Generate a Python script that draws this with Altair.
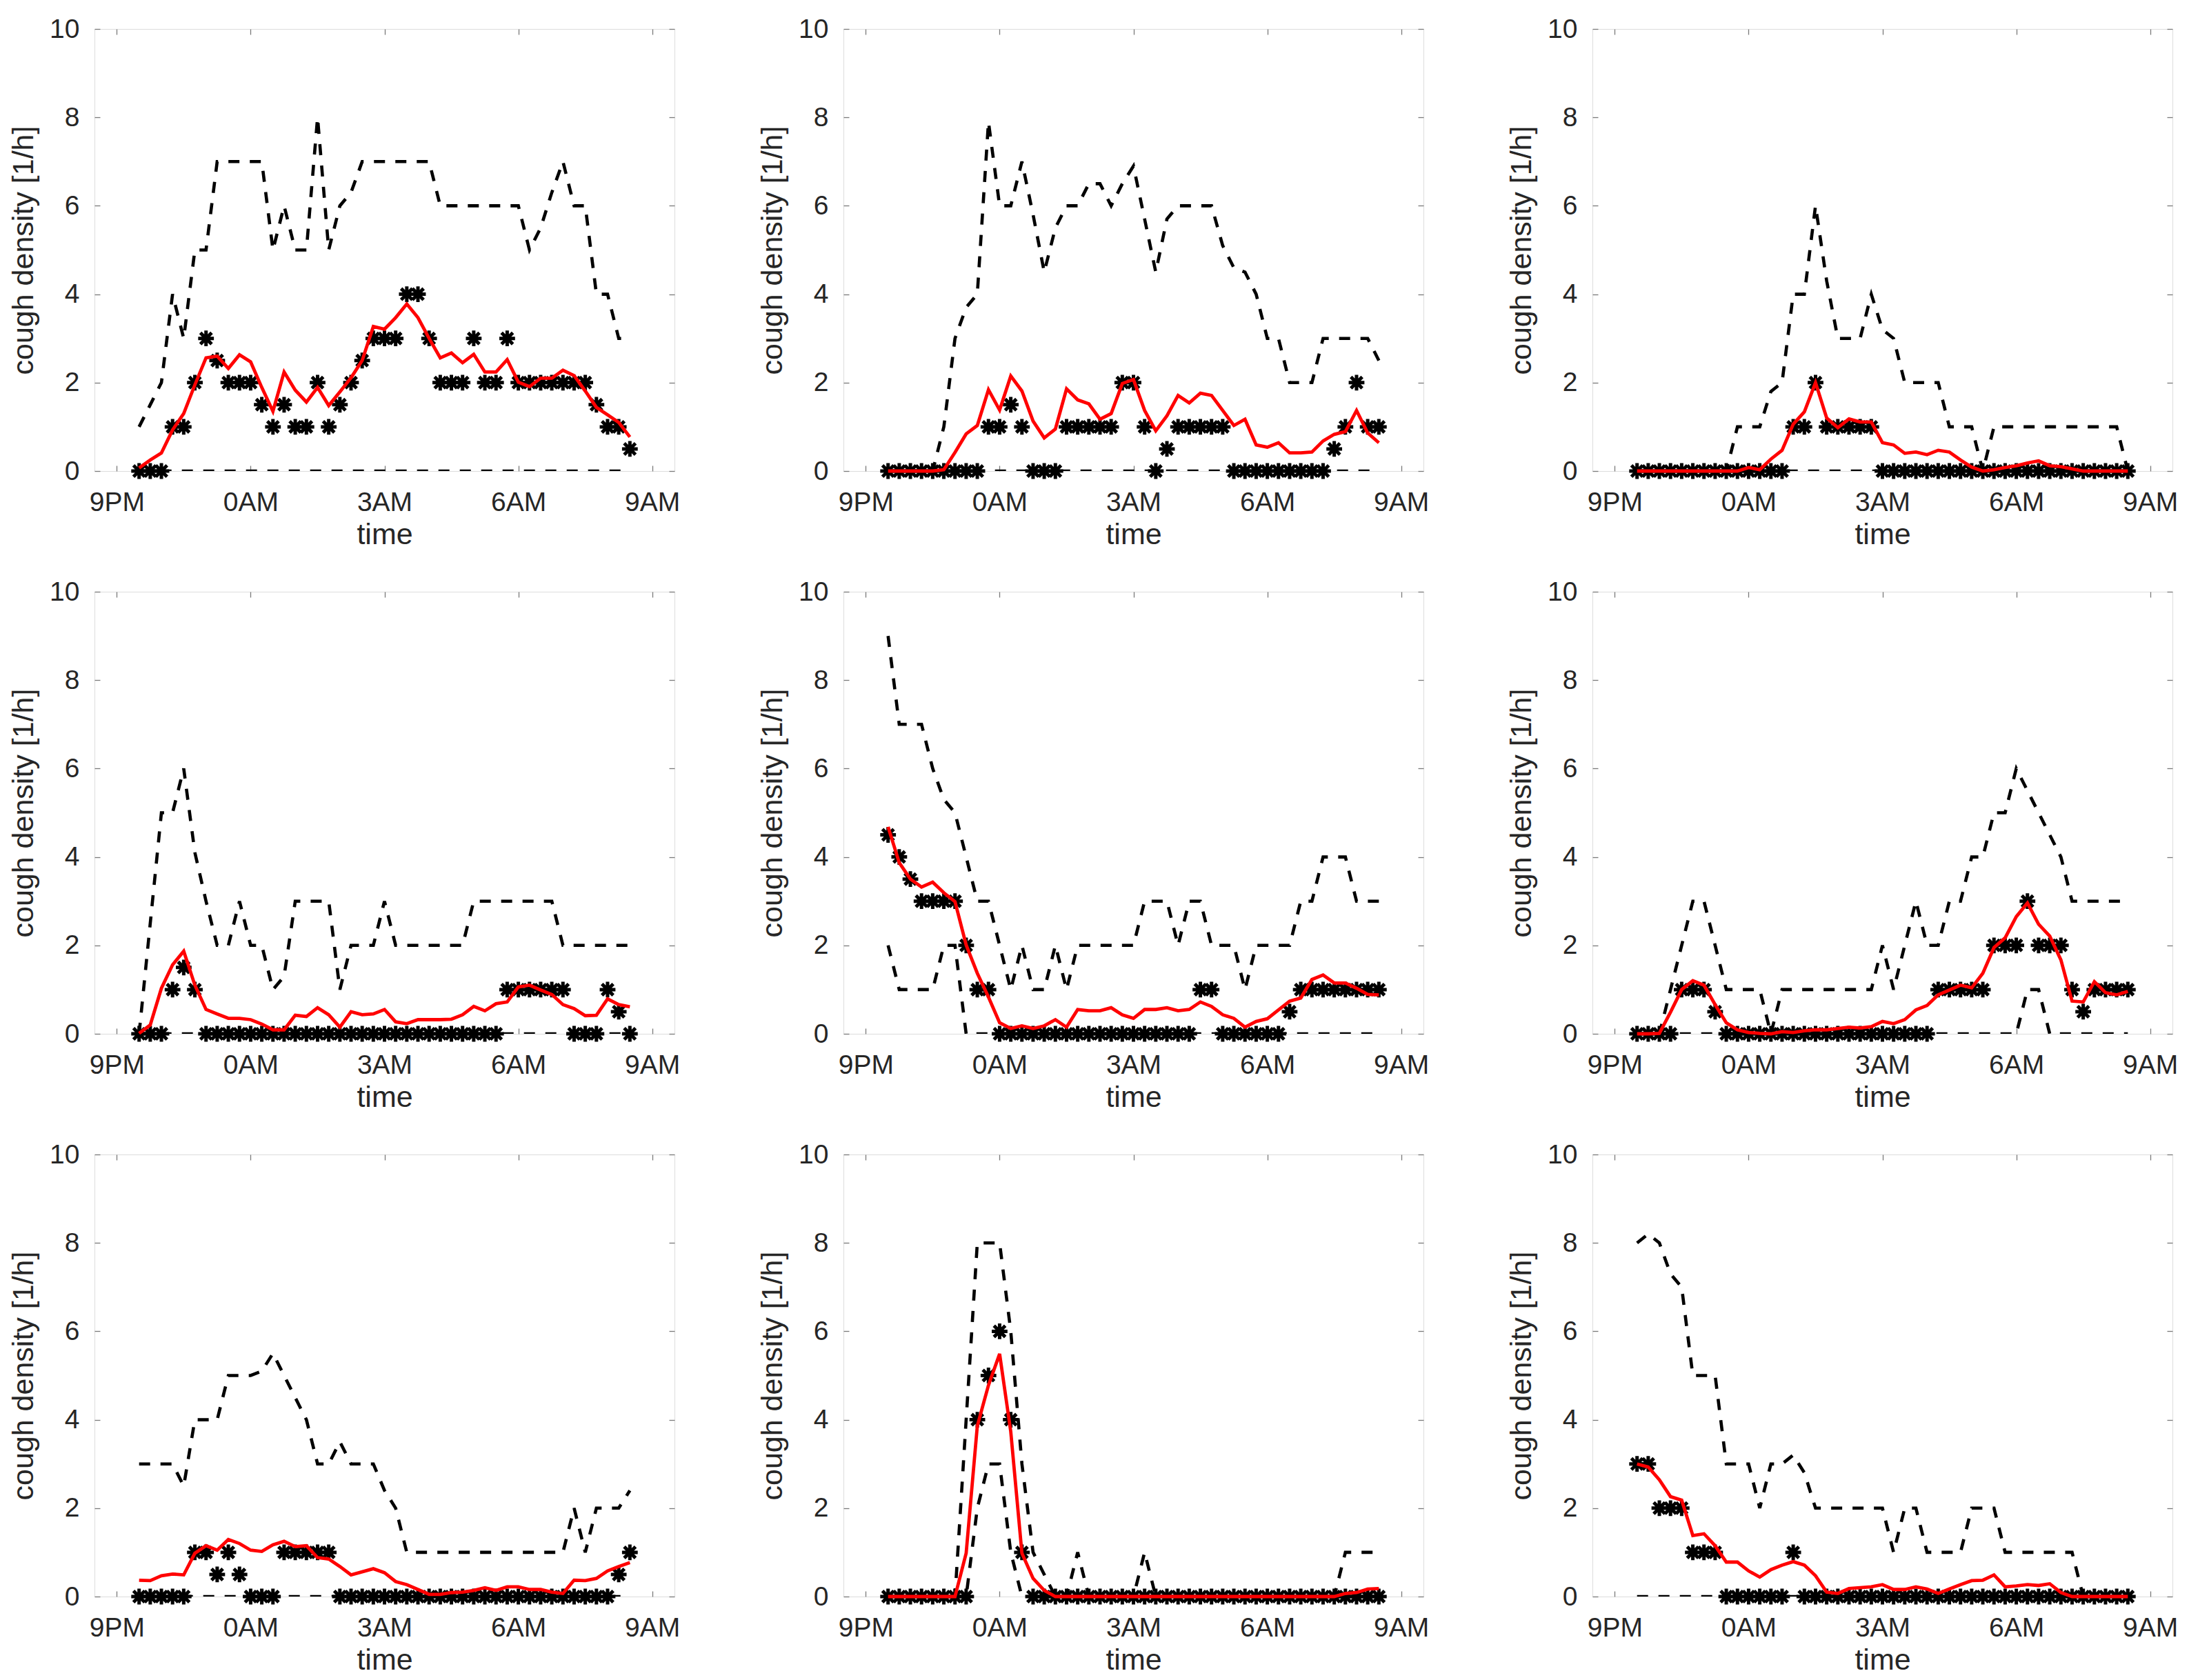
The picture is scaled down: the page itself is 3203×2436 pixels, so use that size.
import altair as alt
import pandas as pd

# ---------------- data ----------------
TICK_HOURS = [0, 3, 6, 9, 12]                      # hours after 9PM
TICK_LABELS = ["9PM", "0AM", "3AM", "6AM", "9AM"]
Y_TICKS = [0, 2, 4, 6, 8, 10]
N = 45                                             # 21:30 ... 08:30 every 15 min
T = [0.5 + 0.25 * i for i in range(N)]

stars1 = [0, 0, 0, 1, 1, 2, 3, 2.5, 2, 2, 2, 1.5, 1, 1.5, 1, 1, 2, 1, 1.5, 2,
          2.5, 3, 3, 3, 4, 4, 3, 2, 2, 2, 3, 2, 2, 3, 2, 2, 2, 2, 2, 2, 2, 1.5, 1, 1, 0.5]
red1 = [0.07, 0.25, 0.41, 0.93, 1.3, 1.95, 2.56, 2.6, 2.32, 2.63, 2.47, 1.89, 1.35, 2.24, 1.83,
        1.56, 1.89, 1.48, 1.79, 2.11, 2.5, 3.27, 3.21, 3.47, 3.78, 3.47, 3.0, 2.56, 2.67, 2.45,
        2.64, 2.24, 2.24, 2.52, 2.01, 1.91, 2.1, 2.1, 2.28, 2.16, 1.81, 1.44, 1.27, 1.1, 0.77]
upper1 = [1, 1.5, 2, 4, 3, 5, 5, 7, 7, 7, 7, 7, 5, 6, 5, 5, 8, 5, 6, 6.3,
          7, 7, 7, 7, 7, 7, 7, 6, 6, 6, 6, 6, 6, 6, 6, 5, 5.5, 6.3, 7, 6, 6, 4, 4, 3, 3]
lower1 = [0] * 45

stars2 = [0, 0, 0, 0, 0, 0, 0, 0, 0, 1, 1, 1.5, 1, 0, 0, 0, 1, 1, 1, 1,
          1, 2, 2, 1, 0, 0.5, 1, 1, 1, 1, 1, 0, 0, 0, 0, 0, 0, 0, 0, 0, 0.5, 1, 2, 1, 1]
red2 = [0, 0, 0, 0, 0, 0.03, 0.42, 0.84, 1.03, 1.84, 1.38, 2.15, 1.81, 1.13, 0.75,
        0.95, 1.86, 1.61, 1.52, 1.17, 1.3, 1.98, 2.07, 1.37, 0.91, 1.25, 1.71, 1.54, 1.76, 1.71,
        1.37, 1.03, 1.17, 0.59, 0.54, 0.64, 0.41, 0.41, 0.43, 0.68, 0.83, 0.89, 1.37, 0.86, 0.64]
upper2 = [0, 0, 0, 0, 0, 1, 3, 3.7, 4, 7.9, 6, 6, 7, 5.8, 4.5, 5.5, 6, 6, 6.5, 6.5,
          6, 6.5, 6.9, 5.7, 4.5, 5.7, 6, 6, 6, 6, 5.1, 4.6, 4.5, 4, 3, 3, 2, 2, 2, 3, 3, 3, 3, 3, 2.5]
lower2 = [0] * 45

stars3 = [0] * 14 + [1, 1, 2, 1, 1, 1, 1, 1] + [0] * 23
red3 = [0, 0, 0, 0, 0, 0, 0, 0, 0, 0, 0.08, 0.03, 0.27, 0.47, 1.06, 1.34, 2.0, 1.2, 0.98, 1.18,
        1.11, 1.11, 0.64, 0.59, 0.4, 0.43, 0.37, 0.47, 0.43, 0.25, 0.09, 0, 0.03, 0.08, 0.12,
        0.18, 0.23, 0.12, 0.1, 0.05, 0, 0, 0, 0, 0]
upper3 = [0, 0, 0, 0, 0, 0, 0, 0, 0, 1, 1, 1, 1.8, 2, 4, 4, 6, 4.3, 3, 3,
          3, 4, 3.2, 3, 2, 2, 2, 2, 1, 1, 1, 0, 1, 1, 1, 1, 1, 1, 1, 1, 1, 1, 1, 1, 0]
lower3 = [0] * 45

stars4 = [0, 0, 0, 1, 1.5, 1] + [0] * 27 + [1] * 6 + [0, 0, 0, 1, 0.5, 0]
red4 = [0.01, 0.2, 1.03, 1.56, 1.87, 1.1, 0.55, 0.45, 0.35, 0.35, 0.32, 0.22, 0.09, 0.09, 0.42,
        0.39, 0.59, 0.43, 0.15, 0.5, 0.43, 0.45, 0.55, 0.27, 0.23, 0.32, 0.32, 0.32, 0.33, 0.43,
        0.62, 0.52, 0.68, 0.72, 1.06, 1.1, 0.99, 0.89, 0.66, 0.57, 0.41, 0.42, 0.79, 0.66, 0.61]
upper4 = [0, 2.5, 5, 5, 6, 4.1, 3, 2, 2, 3, 2, 2, 1, 1.3, 3, 3, 3, 3, 1, 2,
          2, 2, 3, 2, 2, 2, 2, 2, 2, 2, 3, 3, 3, 3, 3, 3, 3, 3, 2, 2, 2, 2, 2, 2, 2]
lower4 = [0] * 45

stars5 = [4.5, 4, 3.5, 3, 3, 3, 3, 2, 1, 1] + [0] * 18 + [1, 1] + [0] * 6 + [0.5] + [1] * 8
red5 = [4.68, 3.87, 3.5, 3.32, 3.43, 3.19, 2.99, 2.01, 1.37, 0.83, 0.25, 0.12, 0.18, 0.12, 0.18,
        0.32, 0.15, 0.55, 0.52, 0.52, 0.59, 0.43, 0.35, 0.55, 0.55, 0.59, 0.52, 0.55, 0.72, 0.62,
        0.43, 0.35, 0.15, 0.28, 0.34, 0.54, 0.74, 0.81, 1.23, 1.33, 1.15, 1.15, 1.03, 0.89, 0.88]
upper5 = [9, 7, 7, 7, 6, 5.3, 5, 4, 3, 3, 2, 1, 2, 1, 1, 2, 1, 2, 2, 2,
          2, 2, 2, 3, 3, 3, 2, 3, 3, 2, 2, 2, 1, 2, 2, 2, 2, 3, 3, 4, 4, 4, 3, 3, 3]
lower5 = [2, 1, 1, 1, 1, 2, 2, 0] + [0] * 37

stars6 = [0, 0, 0, 0, 1, 1, 1, 0.5] + [0] * 19 + [1] * 5 + [2, 2, 2, 3, 2, 2, 2, 1, 0.5, 1, 1, 1, 1]
red6 = [0, 0, 0.01, 0.49, 1.0, 1.2, 1.1, 0.66, 0.25, 0.09, 0.03, 0.01, 0, 0.05, 0.03,
        0.07, 0.09, 0.09, 0.12, 0.15, 0.13, 0.16, 0.28, 0.23, 0.32, 0.54, 0.64, 0.88, 0.99, 1.1,
        1.04, 1.37, 1.95, 2.17, 2.65, 2.96, 2.48, 2.21, 1.67, 0.74, 0.72, 1.18, 0.93, 0.88, 0.96]
upper6 = [0, 0, 0, 1, 2, 3, 3, 2, 1, 1, 1, 1, 0, 1, 1, 1, 1, 1, 1, 1,
          1, 1, 2, 1, 2, 3, 2, 2, 3, 3, 4, 4, 5, 5, 6, 5.5, 5, 4.5, 4, 3, 3, 3, 3, 3, 3]
lower6 = [0] * 35 + [1, 1] + [0] * 8

stars7 = [0, 0, 0, 0, 0, 1, 1, 0.5, 1, 0.5, 0, 0, 0, 1, 1, 1, 1, 1] + [0] * 25 + [0.5, 1]
red7 = [0.37, 0.36, 0.47, 0.51, 0.49, 0.98, 1.15, 1.05, 1.29, 1.2, 1.05, 1.02, 1.17, 1.25, 1.13,
        1.15, 0.88, 0.85, 0.68, 0.49, 0.56, 0.63, 0.54, 0.34, 0.27, 0.16, 0.05, 0.05, 0.09, 0.1,
        0.14, 0.2, 0.14, 0.22, 0.22, 0.16, 0.16, 0.1, 0.07, 0.37, 0.36, 0.41, 0.58, 0.68, 0.77]
upper7 = [3, 3, 3, 3, 2.5, 4, 4, 4, 5, 5, 5, 5.1, 5.5, 5, 4.5, 4, 3, 3, 3.5, 3,
          3, 3, 2.4, 2, 1, 1, 1, 1, 1, 1, 1, 1, 1, 1, 1, 1, 1, 1, 1, 2, 1, 2, 2, 2, 2.4]
lower7 = [0] * 45

stars8 = [0] * 8 + [4, 5, 6, 4, 1] + [0] * 32
red8 = [0, 0, 0, 0, 0, 0, 0, 0.98, 3.86, 4.78, 5.49, 3.73, 0.98, 0.41, 0.14] + [0] * 26 + \
       [0.07, 0.09, 0.17, 0.18]
upper8 = [0, 0, 0, 0, 0, 0, 0, 4, 8, 8, 8, 6, 3, 1, 0.5, 0, 0, 1, 0, 0,
          0, 0, 0, 1, 0] + [0] * 15 + [0, 1, 1, 1, 1]
lower8 = [0, 0, 0, 0, 0, 0, 0, 0, 2, 3, 3, 1, 0] + [0] * 32

stars9 = [3, 3, 2, 2, 2, 1, 1, 1, 0, 0, 0, 0, 0, 0, 1] + [0] * 30
red9 = [3.0, 2.93, 2.64, 2.26, 2.18, 1.38, 1.42, 1.15, 0.78, 0.78, 0.58, 0.44, 0.61, 0.71, 0.79,
        0.71, 0.47, 0.1, 0.07, 0.18, 0.2, 0.22, 0.27, 0.16, 0.16, 0.22, 0.17, 0.07, 0.17, 0.27,
        0.36, 0.37, 0.49, 0.22, 0.24, 0.27, 0.25, 0.29, 0.09, 0, 0, 0, 0, 0, 0]
upper9 = [8, 8.2, 8, 7.3, 7, 5, 5, 5, 3, 3, 3, 2, 3, 3, 3.2, 2.8, 2, 2, 2, 2,
          2, 2, 2, 1, 2, 2, 1, 1, 1, 1, 2, 2, 2, 1, 1, 1, 1, 1, 1, 1, 0, 0, 0, 0, 0]
lower9 = [0] * 45

PANELS = [
    (stars1, red1, upper1, lower1), (stars2, red2, upper2, lower2), (stars3, red3, upper3, lower3),
    (stars4, red4, upper4, lower4), (stars5, red5, upper5, lower5), (stars6, red6, upper6, lower6),
    (stars7, red7, upper7, lower7), (stars8, red8, upper8, lower8), (stars9, red9, upper9, lower9),
]

# ---------------- styling ----------------
FONT = "Liberation Sans"
TXT = "#262626"
FRAMEC = "#7a7a7a"
W, H = 841, 641
TICK = 8
LABEL_EXPR = "[" + ",".join("'%s'" % s for s in TICK_LABELS) + "][round(datum.value/3)]"
ASTERISK = "M-1,0L1,0M0,-1L0,1M-0.72,-0.72L0.72,0.72M-0.72,0.72L0.72,-0.72"

common_axis = dict(domain=False, grid=False, tickSize=TICK, offset=-TICK, tickColor=FRAMEC,
                   tickWidth=1.3, labelFont=FONT, labelFontSize=39, labelColor=TXT,
                   titleFont=FONT, titleFontSize=43, titleColor=TXT, titleFontWeight="normal")

x_bottom = alt.Axis(orient="bottom", values=TICK_HOURS, labelExpr=LABEL_EXPR, title="time",
                    labelPadding=26, titlePadding=6, **common_axis)
y_left = alt.Axis(orient="left", values=Y_TICKS, title="cough density [1/h]",
                  labelPadding=22, titlePadding=15, **common_axis)
x_top = alt.Axis(orient="top", values=TICK_HOURS, labels=False, title=None, **common_axis)
y_right = alt.Axis(orient="right", values=Y_TICKS, labels=False, title=None, **common_axis)

xs = alt.Scale(domain=[-0.5, 12.5], nice=False, zero=False)
ys = alt.Scale(domain=[0, 10], nice=False)


def panel(stars, red, upper, lower):
    df = pd.DataFrame({"t": T, "star": stars, "red": red, "upper": upper, "lower": lower})
    base = alt.Chart(df)
    dash = dict(color="black", strokeWidth=4.6, strokeDash=[16, 15], clip=True)
    up = base.mark_line(**dash).encode(
        x=alt.X("t:Q", scale=xs, axis=x_bottom),
        y=alt.Y("upper:Q", scale=ys, axis=y_left))
    lo = base.mark_line(**dash).encode(
        x=alt.X("t:Q", scale=xs, axis=None),
        y=alt.Y("lower:Q", scale=ys, axis=None))
    st = base.mark_point(shape=ASTERISK, size=520, filled=False, color="black",
                         strokeWidth=5, opacity=1).encode(
        x=alt.X("t:Q", scale=xs, axis=None),
        y=alt.Y("star:Q", scale=ys, axis=None))
    rd = base.mark_line(color="#ff0000", strokeWidth=4.8).encode(
        x=alt.X("t:Q", scale=xs, axis=None),
        y=alt.Y("red:Q", scale=ys, axis=None))
    frame = base.mark_point(opacity=0).encode(
        x=alt.X("t:Q", scale=xs, axis=x_top),
        y=alt.Y("red:Q", scale=ys, axis=y_right))
    return alt.layer(up, lo, st, rd, frame).resolve_axis(
        x="independent", y="independent").properties(width=W, height=H)


chart = alt.ConcatChart(
    concat=[panel(*p) for p in PANELS],
    columns=3,
    spacing=alt.RowColnumber(row=175, column=245),
    bounds="flush",
).properties(
    padding={"left": 5, "top": 14, "right": 10, "bottom": 10}
).configure_view(stroke=FRAMEC, strokeWidth=1.3).configure(background="white")

chart.save("out.html", embed_options={"renderer": "svg", "actions": False})
